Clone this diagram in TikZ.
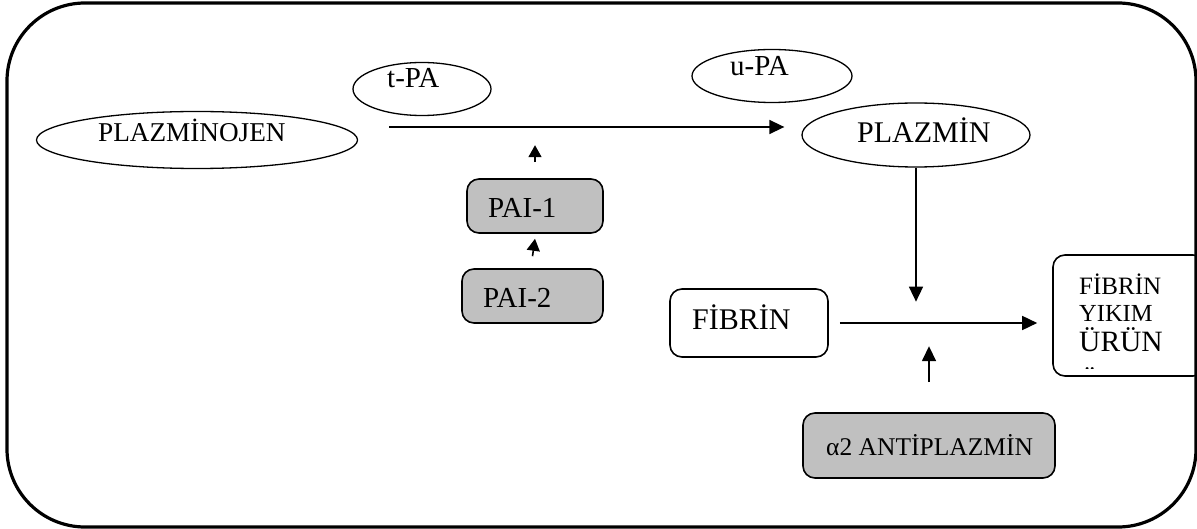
\documentclass[tikz,border=0pt]{standalone}
\usepackage{fontspec}
\setmainfont{Liberation Serif}
\usepackage{xcolor}
\usetikzlibrary{shapes.geometric,arrows.meta}
\definecolor{boxgray}{RGB}{192,192,192}
\newcommand{\fsz}[1]{\fontsize{#1}{#1}\selectfont}

\begin{document}
\begin{tikzpicture}[x=1pt,y=-1pt,
  oval/.style={draw, ellipse, line width=1.3pt, inner sep=0pt},
  wbox/.style={draw, rounded corners=12pt, line width=1.6pt, inner sep=0pt},
  gbox/.style={wbox, fill=boxgray},
  txt/.style={inner sep=0pt, anchor=base west},
  arr/.style={line width=1.6pt, -{Triangle[length=15pt,width=14pt]}},
  sarr/.style={line width=1.6pt, -{Triangle[length=12pt,width=13pt]}}]
\useasboundingbox (0,0) rectangle (1197,529);
\draw[line width=3.2pt, rounded corners=78pt] (7,3) rectangle (1196,527);

% ovals
\node[oval, minimum width=321, minimum height=57] (plg) at (197,140) {};
\node[oval, minimum width=138, minimum height=53] (tpa) at (422,89) {};
\node[oval, minimum width=160, minimum height=53] (upa) at (772,76) {};
\node[oval, minimum width=228, minimum height=64] (plm) at (916,135) {};
\node[txt, font=\fsz{27.2}] (plgt) at (98,142) {PLAZMİNOJEN};
\node[txt, font=\fsz{29}] (tpat) at (387,88) {t-PA};
\node[txt, font=\fsz{29}] (upat) at (730,76) {u-PA};
\node[txt, font=\fsz{30}] (plmt) at (857,143) {PLAZMİN};

% boxes
\node[gbox, minimum width=136, minimum height=54] (pai1) at (535,206) {};
\node[gbox, minimum width=141, minimum height=54] (pai2) at (532.5,296) {};
\node[wbox, minimum width=158, minimum height=68] (fib) at (749,323) {};
\node[gbox, minimum width=252, minimum height=65] (anti) at (929,445.5) {};
\node[wbox, minimum width=152, minimum height=121] (fyu) at (1129,315.5) {};
\node[txt, font=\fsz{29}] (pai1t) at (488,218) {PAI-1};
\node[txt, font=\fsz{29}] (pai2t) at (483,308) {PAI-2};
\node[txt, font=\fsz{30}] (fibt) at (692,330) {FİBRİN};
\node[txt, font=\fsz{25.5}] (antit) at (826,455) {α2 ANTİPLAZMİN};
\node[txt, font=\fsz{25}] (fyu1) at (1079,295) {FİBRİN};
\node[txt, font=\fsz{24.5}] (fyu2) at (1079,322) {YIKIM};
\node[txt, font=\fsz{29.5}] (fyu3) at (1079,352) {ÜRÜN};
\begin{scope}
  \clip (1053,255) rectangle (1197,368.5);
  \node[txt, font=\fsz{29.5}] (fyu4) at (1079,391) {Ü};
\end{scope}

% arrows
\draw[arr] ([shift={(31,-13)}]plg.east) -- ([shift={(-17,-8)}]plm.west);
\draw[sarr] ([yshift=16pt]pai1.north) -- ([yshift=33pt]pai1.north);
\draw[sarr] ([yshift=12pt]pai2.north) -- ([yshift=-5pt]pai1.south);
\path (fib.east -| fyu.west) coordinate (fyin);
\draw[arr] ([xshift=11pt]fib.east) -- ([xshift=-15pt]fyin);
\draw[arr] (plm.south) -- ++(0,134);
\draw[arr] ([yshift=30pt]anti.north) -- ++(0,-36);
\end{tikzpicture}
\end{document}
